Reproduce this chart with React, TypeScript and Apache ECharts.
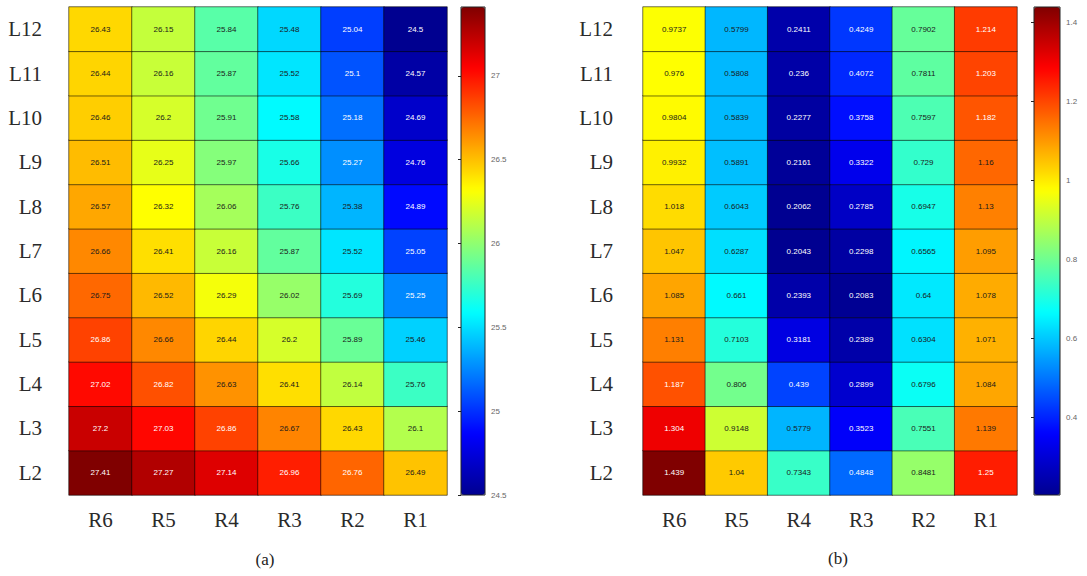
import React, { useEffect, useRef } from "react";
import * as echarts from "echarts";

const colLabels = ["R6", "R5", "R4", "R3", "R2", "R1"];
const rowLabels = ["L2", "L3", "L4", "L5", "L6", "L7", "L8", "L9", "L10", "L11", "L12"];

// rows in the order of rowLabels (L2 ... L12), columns in the order of colLabels
const valuesA = [
  [27.41, 27.27, 27.14, 26.96, 26.76, 26.49],
  [27.2, 27.03, 26.86, 26.67, 26.43, 26.1],
  [27.02, 26.82, 26.63, 26.41, 26.14, 25.76],
  [26.86, 26.66, 26.44, 26.2, 25.89, 25.46],
  [26.75, 26.52, 26.29, 26.02, 25.69, 25.25],
  [26.66, 26.41, 26.16, 25.87, 25.52, 25.05],
  [26.57, 26.32, 26.06, 25.76, 25.38, 24.89],
  [26.51, 26.25, 25.97, 25.66, 25.27, 24.76],
  [26.46, 26.2, 25.91, 25.58, 25.18, 24.69],
  [26.44, 26.16, 25.87, 25.52, 25.1, 24.57],
  [26.43, 26.15, 25.84, 25.48, 25.04, 24.5],
];

const valuesB = [
  [1.439, 1.04, 0.7343, 0.4848, 0.8481, 1.25],
  [1.304, 0.9148, 0.5779, 0.3523, 0.7551, 1.139],
  [1.187, 0.806, 0.439, 0.2899, 0.6796, 1.084],
  [1.131, 0.7103, 0.3181, 0.2389, 0.6304, 1.071],
  [1.085, 0.661, 0.2393, 0.2083, 0.64, 1.078],
  [1.047, 0.6287, 0.2043, 0.2298, 0.6565, 1.095],
  [1.018, 0.6043, 0.2062, 0.2785, 0.6947, 1.13],
  [0.9932, 0.5891, 0.2161, 0.3322, 0.729, 1.16],
  [0.9804, 0.5839, 0.2277, 0.3758, 0.7597, 1.182],
  [0.976, 0.5808, 0.236, 0.4072, 0.7811, 1.203],
  [0.9737, 0.5799, 0.2411, 0.4249, 0.7902, 1.214],
];

const ticksA = [24.5, 25, 25.5, 26, 26.5, 27];
const ticksB = [0.4, 0.6, 0.8, 1, 1.2, 1.4];

const jet = [
  "#000090", "#0000ff", "#0080ff", "#00ffff", "#80ff80",
  "#ffff00", "#ff8000", "#ff0000", "#800000",
];

const SERIF = "'Liberation Serif', 'Times New Roman', Times, serif";
const SANS = "'Liberation Sans', Arial, Helvetica, sans-serif";

function buildData(values: number[][]) {
  const flat = values.flat();
  const mn = Math.min(...flat);
  const mx = Math.max(...flat);
  const data: any[] = [];
  values.forEach((row, j) => {
    row.forEach((v, i) => {
      const t = (v - mn) / (mx - mn);
      const light = t < 0.28 || t > 0.775;
      data.push({ value: [i, j, v], label: { color: light ? "#ffffff" : "#1a1a1a" } });
    });
  });
  return { data, mn, mx };
}

export default function App() {
  const ref = useRef<HTMLDivElement>(null);
  useEffect(() => {
    if (!ref.current) return;
    const chart = echarts.init(ref.current, undefined, { renderer: "svg" });
    const A = buildData(valuesA);
    const B = buildData(valuesB);

    const heatGrid = (left: number, width: number) => ({
      left, top: 7, width, height: 488, containLabel: false,
    });
    const barGrid = (left: number, width: number) => ({
      left, top: 7, width, height: 488, show: true,
      borderColor: "#222", borderWidth: 1, backgroundColor: "transparent", z: 10,
    });

    const catX = (gi: number) => ({
      type: "category", gridIndex: gi, data: colLabels,
      axisLine: { show: false }, axisTick: { show: false }, splitArea: { show: false },
      axisLabel: { fontFamily: SERIF, fontSize: 21, color: "#2a2a2a", margin: 14 },
    });
    const catY = (gi: number, margin: number) => ({
      type: "category", gridIndex: gi, data: rowLabels,
      axisLine: { show: false }, axisTick: { show: false }, splitArea: { show: false },
      axisLabel: { fontFamily: SERIF, fontSize: 21, color: "#2a2a2a", margin },
    });
    const valY = (gi: number, mn: number, mx: number, ticks: number[]) => ({
      type: "value", gridIndex: gi, min: mn, max: mx, position: "right",
      axisLine: { show: false }, splitLine: { show: false },
      axisTick: { show: true, inside: true, length: 3, customValues: ticks, lineStyle: { color: "#222" } },
      axisLabel: {
        customValues: ticks, fontFamily: SANS, fontSize: 8, color: "#666", margin: 6,
        formatter: (v: number) => String(Math.round(v * 100) / 100),
      },
    });
    const hideX = (gi: number) => ({ type: "value", gridIndex: gi, show: false, min: 0, max: 1 });

    const heatSeries = (gi: number, data: any[]) => ({
      type: "heatmap", xAxisIndex: gi, yAxisIndex: gi, data,
      itemStyle: { borderColor: "rgba(0,0,0,0.55)", borderWidth: 1 },
      label: {
        show: true, fontFamily: SANS, fontSize: 8,
        formatter: (p: any) => String(p.value[2]),
      },
      emphasis: { disabled: true },
    });

    chart.setOption({
      animation: false,
      grid: [
        heatGrid(69, 378),
        heatGrid(643, 374),
        barGrid(461, 24),
        barGrid(1034, 26),
      ],
      xAxis: [catX(0), catX(1), hideX(2), hideX(3)],
      yAxis: [catY(0, 27), catY(1, 30), valY(2, A.mn, A.mx, ticksA), valY(3, B.mn, B.mx, ticksB)],
      visualMap: [
        {
          type: "continuous", seriesIndex: 0, min: A.mn, max: A.mx,
          inRange: { color: jet }, orient: "vertical", left: 461, top: 7,
          itemWidth: 24, itemHeight: 488, padding: 0, calculable: false, hoverLink: false,
        },
        {
          type: "continuous", seriesIndex: 1, min: B.mn, max: B.mx,
          inRange: { color: jet }, orient: "vertical", left: 1034, top: 7,
          itemWidth: 26, itemHeight: 488, padding: 0, calculable: false, hoverLink: false,
        },
      ],
      series: [heatSeries(0, A.data), heatSeries(1, B.data)],
      graphic: [
        {
          type: "text", x: 265, y: 559,
          style: { text: "(a)", align: "center", verticalAlign: "middle", font: `17px ${SERIF}`, fill: "#222" },
        },
        {
          type: "text", x: 838, y: 558,
          style: { text: "(b)", align: "center", verticalAlign: "middle", font: `17px ${SERIF}`, fill: "#222" },
        },
      ],
    });
    return () => chart.dispose();
  }, []);
  return (
    <div
      ref={ref}
      style={{ position: "fixed", left: 0, top: 0, width: 1087, height: 576, background: "#fff" }}
    />
  );
}
